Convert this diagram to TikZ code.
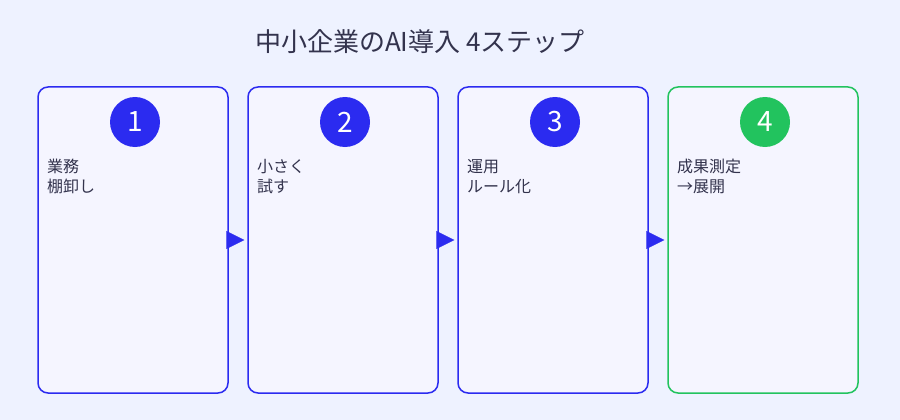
\documentclass[tikz,border=0pt]{standalone}
\usepackage{fontspec}
\setmainfont{Noto Sans CJK JP}
\usetikzlibrary{arrows.meta}
\definecolor{bg}{HTML}{EEF2FF}
\definecolor{boxfill}{HTML}{F5F5FF}
\definecolor{ablue}{HTML}{2B2BF0}
\definecolor{agreen}{HTML}{22C35E}
\definecolor{txt}{HTML}{33334D}
\tikzset{
  stepbox/.style={draw=#1, line width=1.5pt, fill=boxfill, rounded corners=10pt, minimum width=190pt, minimum height=306pt, inner sep=0pt},
  numc/.style={circle, fill=#1, minimum size=50pt, inner sep=0pt, text=white, font=\fontsize{28}{28}\selectfont},
  lbl/.style={anchor=north west, text=txt, align=left, font=\fontsize{16}{20}\selectfont, inner sep=0pt},
  conn/.style={draw=bg, line width=0.1pt, -{Triangle[length=18pt,width=18pt,color=ablue]}, shorten >=3pt}
}
\begin{document}
\begin{tikzpicture}[x=1pt,y=-1pt]
\fill[bg] (0,0) rectangle (900,420);
\useasboundingbox (0,0) rectangle (900,420);
\node[text=txt, font=\fontsize{26}{26}\selectfont] (title) at (420,42) {中小企業のAI導入 4ステップ};
\foreach \i/\x/\t/\c in {1/133/{業務\\棚卸し}/ablue,2/343/{小さく\\試す}/ablue,3/553/{運用\\ルール化}/ablue,4/763/{成果測定\\→展開}/agreen}{
  \node[stepbox=\c] (b\i) at (\x,240) {};
  \node[numc=\c] (n\i) at (\x+2,122) {\i};
  \node[lbl] (t\i) at (\x-86,159) {\t};
}
\draw[conn] (b1.east) -- (b2.west);
\draw[conn] (b2.east) -- (b3.west);
\draw[conn] (b3.east) -- (b4.west);
\end{tikzpicture}
\end{document}
